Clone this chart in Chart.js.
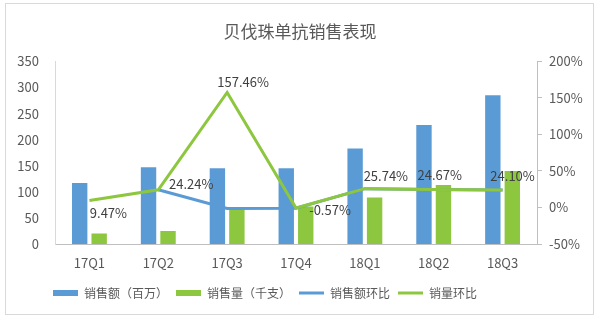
<!DOCTYPE html>
<html>
<head>
<meta charset="utf-8">
<script src="https://cdn.jsdelivr.net/npm/chart.js@4.4.1/dist/chart.umd.min.js"></script>
<style>
  html, body { margin: 0; padding: 0; background: #fff; }
  #wrap { width: 600px; height: 320px; }
</style>
</head>
<body>
<div id="wrap"><canvas id="chart" width="600" height="320"></canvas></div>
<script>
// 数据
var quarters = ['17Q1', '17Q2', '17Q3', '17Q4', '18Q1', '18Q2', '18Q3'];
var salesAmount = [117, 147, 145, 145, 183, 228, 285];     // 销售额（百万）
var salesVolume = [20, 25, 71, 72, 89, 113, 140];          // 销售量（千支）
var amountQoQ = [null, 24.24, -1.36, -0.9, 25.74, 24.67, 24.10]; // 销售额环比 %
var volumeQoQ = [9.47, 24.24, 157.46, -0.57, 25.74, 24.67, 24.10]; // 销量环比 %
var leftTicks = [0, 350, 50];
var rightTicks = [-50, 200, 50];

var FONT = '"Noto Sans CJK SC", "Microsoft YaHei", sans-serif';
var TXT = '#595959';
var BLUE = '#5B9BD5';
var GREEN = '#8DC63F';

Chart.defaults.font.family = FONT;
Chart.defaults.color = TXT;

// 外框 + 白底
var framePlugin = {
    id: 'frame',
    beforeDraw: function (chart) {
        var c = chart.ctx;
        c.save();
        c.fillStyle = '#fff';
        c.fillRect(0, 0, chart.width, chart.height);
        c.strokeStyle = '#d9d9d9';
        c.lineWidth = 1;
        c.strokeRect(5.5, 3.5, 588, 311);
        c.restore();
    }
};

// 图例整体左移一点
var legendShift = {
    id: 'legendShift',
    afterLayout: function (chart) {
        chart.legend.right -= 70;
    }
};

// 销量环比数据标签
var valueLabels = {
    id: 'valueLabels',
    afterDatasetsDraw: function (chart, args, opts) {
        var meta = chart.getDatasetMeta(opts.datasetIndex);
        var ds = chart.data.datasets[opts.datasetIndex];
        var c = chart.ctx;
        c.save();
        c.font = '13px ' + FONT;
        c.fillStyle = '#404040';
        c.textAlign = 'center';
        c.textBaseline = 'middle';
        meta.data.forEach(function (pt, i) {
            var v = ds.data[i];
            if (v === null) return;
            var off = opts.offsets[i];
            c.fillText(v.toFixed(2) + '%', pt.x + off[0], pt.y + off[1]);
        });
        c.restore();
    }
};

var ctx = document.getElementById('chart').getContext('2d');
var myChart = new Chart(ctx, {
    type: 'bar',
    data: {
        labels: quarters,
        datasets: [
            {
                label: '销售额（百万）',
                data: salesAmount,
                backgroundColor: BLUE,
                yAxisID: 'y',
                order: 2,
                barPercentage: 0.79,
                categoryPercentage: 0.566
            },
            {
                label: '销售量（千支）',
                data: salesVolume,
                backgroundColor: GREEN,
                yAxisID: 'y',
                order: 3,
                barPercentage: 0.79,
                categoryPercentage: 0.566
            },
            {
                type: 'line',
                label: '销售额环比',
                data: amountQoQ,
                borderColor: BLUE,
                backgroundColor: BLUE,
                borderWidth: 3,
                pointRadius: 0,
                tension: 0,
                yAxisID: 'y1',
                order: 1
            },
            {
                type: 'line',
                label: '销量环比',
                data: volumeQoQ,
                borderColor: GREEN,
                backgroundColor: GREEN,
                borderWidth: 3,
                pointRadius: 0,
                tension: 0,
                yAxisID: 'y1',
                order: 0
            }
        ]
    },
    options: {
        responsive: false,
        animation: false,
        layout: { padding: { left: 0, right: 0, top: 0, bottom: 11 } },
        plugins: {
            title: {
                display: true,
                text: '贝伐珠单抗销售表现',
                color: TXT,
                font: { size: 17, weight: 'normal', family: FONT },
                padding: { top: 21, bottom: 20 }
            },
            legend: {
                position: 'bottom',
                labels: {
                    usePointStyle: true,
                    pointStyleWidth: 25,
                    boxWidth: 25,
                    boxHeight: 6,
                    padding: 8,
                    color: TXT,
                    font: { size: 12, family: FONT },
                    sort: function (a, b) { return a.datasetIndex - b.datasetIndex; },
                    generateLabels: function (chart) {
                        var items = Chart.defaults.plugins.legend.labels.generateLabels(chart);
                        items.forEach(function (it) {
                            var ds = chart.data.datasets[it.datasetIndex];
                            if (ds.type === 'line') {
                                it.pointStyle = 'line';
                                it.strokeStyle = ds.borderColor;
                                it.lineWidth = 3;
                            } else {
                                it.pointStyle = 'rect';
                                it.lineWidth = 0;
                            }
                        });
                        return items;
                    }
                }
            },
            tooltip: { enabled: false },
            valueLabels: {
                datasetIndex: 3,
                offsets: [[19, 12], [33, -6], [16, -10], [34, 2], [21, -13], [6, -14], [10, -14]]
            }
        },
        scales: {
            x: {
                grid: { display: false },
                border: { display: true, color: '#bfbfbf' },
                ticks: { color: TXT, font: { size: 13 }, padding: 3 },
                afterFit: function (s) { s.height = 35; }
            },
            y: {
                position: 'left',
                min: leftTicks[0],
                max: leftTicks[1],
                grid: { display: false, drawTicks: false },
                border: { display: true, color: '#d9d9d9' },
                ticks: { stepSize: leftTicks[2], color: TXT, font: { size: 13 }, padding: 16 },
                afterFit: function (s) { s.width = 55; }
            },
            y1: {
                position: 'right',
                min: rightTicks[0],
                max: rightTicks[1],
                grid: { display: true, drawOnChartArea: false, drawTicks: true, tickLength: 5, color: '#bfbfbf' },
                border: { display: true, color: '#bfbfbf' },
                ticks: {
                    stepSize: rightTicks[2], color: TXT, font: { size: 13 }, padding: 7,
                    callback: function (v) { return v + '%'; }
                },
                afterFit: function (s) { s.width = 63; }
            }
        }
    },
    plugins: [framePlugin, legendShift, valueLabels]
});
</script>
</body>
</html>
